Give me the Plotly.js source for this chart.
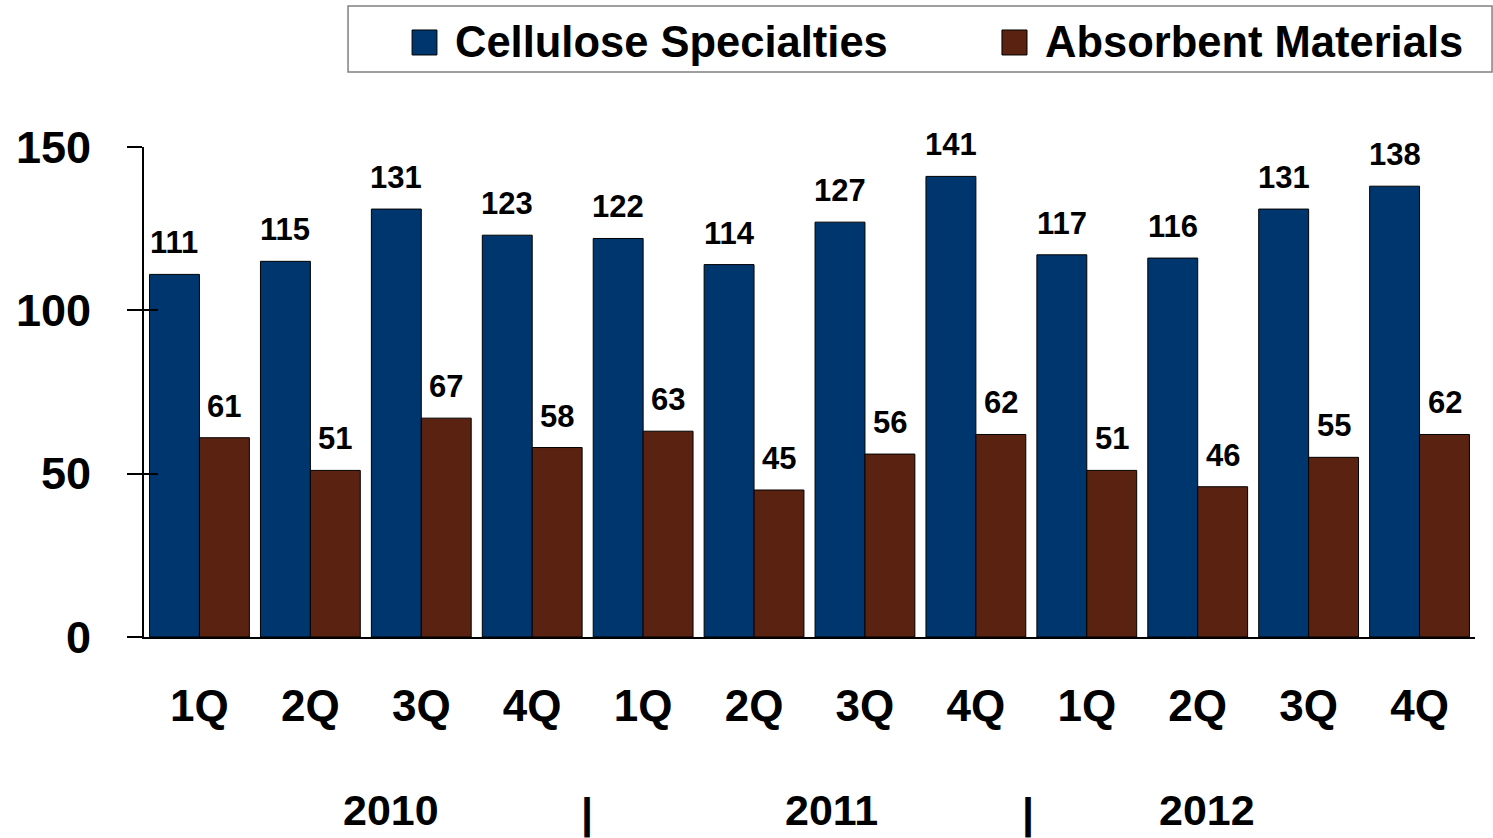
<!DOCTYPE html>
<html>
<head>
<meta charset="utf-8">
<script src="https://cdn.plot.ly/plotly-3.0.1.min.js"></script>
<style>html,body{margin:0;padding:0;background:#fff;}#chart{width:1493px;height:838px;}</style>
</head>
<body>
<div id="chart"></div>
<script>
var quarters = ["1Q","2Q","3Q","4Q","1Q","2Q","3Q","4Q","1Q","2Q","3Q","4Q"];
var years = ["2010","2011","2012"];
var cellulose = [111,115,131,123,122,114,127,141,117,116,131,138];
var absorbent = [61,51,67,58,63,45,56,62,51,46,55,62];
var seriesNames = ["Cellulose Specialties","Absorbent Materials"];
var yTicks = [0,50,100,150];

var FONT = "Liberation Sans, Arial, Helvetica, sans-serif";
var BLUE = "#00366e";
var BROWN = "#5a2210";
var idx = quarters.map(function(_, i){ return i; });

var traces = [
  {type:"bar", x: idx, y: cellulose, name: seriesNames[0], marker:{color: BLUE, line:{color:"#000000", width:1}}, showlegend:false, hoverinfo:"y"},
  {type:"bar", x: idx, y: absorbent, name: seriesNames[1], marker:{color: BROWN, line:{color:"#000000", width:1}}, showlegend:false, hoverinfo:"y"},
  {type:"scatter", x: [], y: [], yaxis:"y2", showlegend:false, hoverinfo:"skip"}
];

var annotations = [];
function addLabels(vals, shift){
  vals.forEach(function(v, i){
    annotations.push({x: i, y: v, xref:"x", yref:"y", text: String(v), showarrow:false,
      xanchor:"center", yanchor:"bottom", xshift: shift, yshift: 12,
      font:{family: FONT, size: 31, color:"#000", weight:"bold"}});
  });
}
addLabels(cellulose, -25);
addLabels(absorbent, 25);

// year row
var yearX = [0.1856, 0.5169, 0.7986];
years.forEach(function(yr, i){
  annotations.push({x: yearX[i], y: -0.353, xref:"paper", yref:"paper", text: yr, showarrow:false,
    xanchor:"center", yanchor:"middle", font:{family: FONT, size: 43, color:"#000", weight:"bold"}});
});
[0.3328, 0.6642].forEach(function(px){
  annotations.push({x: px, y: -0.36, xref:"paper", yref:"paper", text: "|", showarrow:false,
    xanchor:"center", yanchor:"middle", font:{family: FONT, size: 43, color:"#000", weight:"bold"}});
});

// custom legend
var legX = [0.2322, 0.6754];
var sqX = [[0.2014, 0.2201],[0.6446, 0.6634]];
var colors = [BLUE, BROWN];
var shapes = [
  {type:"rect", xref:"paper", yref:"paper", x0:0.1533, x1:1.0128, y0:1.1531, y1:1.2878,
   line:{color:"#808080", width:1.5}, fillcolor:"rgba(0,0,0,0)"}
];
seriesNames.forEach(function(n, i){
  annotations.push({x: legX[i], y: 1.2143, xref:"paper", yref:"paper", text: n, showarrow:false,
    xanchor:"left", yanchor:"middle", font:{family: FONT, size: 43.5, color:"#000", weight:"bold"}});
  shapes.push({type:"rect", xref:"paper", yref:"paper", x0: sqX[i][0], x1: sqX[i][1], y0:1.1878, y1:1.2388,
    line:{color:"#000", width:1}, fillcolor: colors[i]});
});

var layout = {
  width: 1493, height: 838,
  margin: {l:144, r:18, t:147, b:201, pad:0},
  paper_bgcolor:"#ffffff", plot_bgcolor:"#ffffff",
  barmode:"group", bargap:0.1, bargroupgap:0,
  showlegend:false,
  xaxis: {range:[-0.5, 11.5], tickmode:"array", tickvals: idx, ticktext: quarters,
    showgrid:false, zeroline:false, showline:true, linecolor:"#000", linewidth:2,
    ticks:"", ticklabelstandoff: 29,
    tickfont:{family: FONT, size:44, color:"#000", weight:"bold"}, fixedrange:true},
  yaxis: {range:[0,150], tickmode:"array", tickvals: yTicks, showgrid:false, zeroline:false,
    showline:true, linecolor:"#000", linewidth:2, ticks:"outside", ticklen:15, tickwidth:2, tickcolor:"#000",
    ticklabelstandoff: 27,
    tickfont:{family: FONT, size:45, color:"#000", weight:"bold"}, fixedrange:true},
  yaxis2: {range:[0,150], overlaying:"y", side:"left", anchor:"x", tickmode:"array", tickvals: yTicks,
    showgrid:false, zeroline:false, showline:false, ticks:"inside", ticklen:14, tickwidth:2, tickcolor:"#000",
    showticklabels:false, fixedrange:true},
  annotations: annotations,
  shapes: shapes
};

Plotly.newPlot("chart", traces, layout, {displayModeBar:false, staticPlot:true});
</script>
</body>
</html>
